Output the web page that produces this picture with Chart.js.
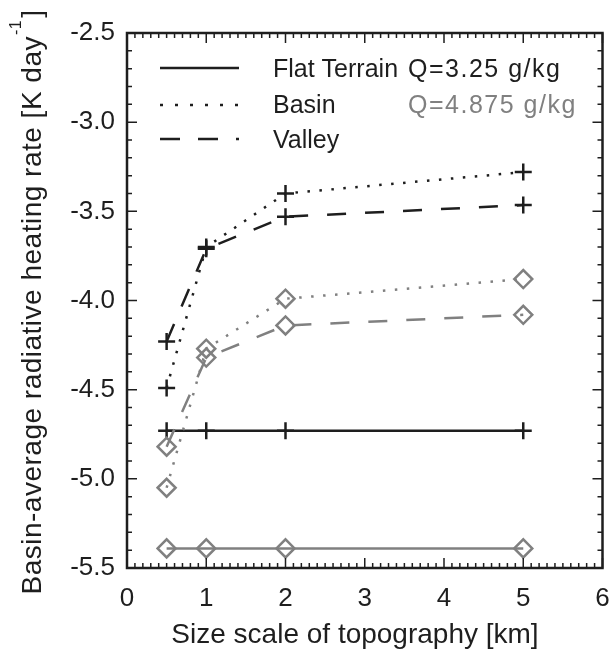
<!DOCTYPE html>
<html>
<head>
<meta charset="utf-8">
<script src="https://cdn.jsdelivr.net/npm/chart.js@4/dist/chart.umd.min.js"></script>
<style>
html,body{margin:0;padding:0;background:#fff;}
#wrap{width:614px;height:665px;position:relative;}
</style>
</head>
<body>
<div id="wrap"><canvas id="c" width="614" height="665"></canvas></div>
<script>
// ---- data ----
const sizeScaleKm = [0.5, 1, 2, 5];
const flatLowQ   = [-4.73, -4.73, -4.73, -4.73];
const basinLowQ  = [-4.49, -3.70, -3.40, -3.28];
const valleyLowQ = [-4.23, -3.71, -3.53, -3.465];
const flatHighQ   = [-5.39, -5.39, -5.39, -5.39];
const basinHighQ  = [-5.05, -4.27, -3.99, -3.88];
const valleyHighQ = [-4.82, -4.32, -4.14, -4.08];
const legendLabels = ['Flat Terrain', 'Basin', 'Valley'];
const qLabels = ['Q=3.25 g/kg', 'Q=4.875 g/kg'];
const xTitle = 'Size scale of topography [km]';
const yTitleMain = 'Basin-average radiative heating rate [K day';
const yTitleSup = '-1';
const yTitleEnd = ']';

const FONT = '"Liberation Sans", Arial, Helvetica, sans-serif';
const BLACK = '#1e1e1e';
const GRAY = '#808080';
const DOT = [2.5, 9.5];
const DASH = [19, 19];

function pts(arr){ return sizeScaleKm.map((x,i)=>({x:x, y:arr[i]})); }
function ds(label, arr, color, dash, style, r){
  return {label, data: pts(arr), borderColor: color, borderWidth: 2.5, borderDash: dash,
    pointStyle: style, pointRadius: r, pointHoverRadius: r, pointBorderColor: color,
    pointBackgroundColor: 'rgba(0,0,0,0)', pointBorderWidth: 2.5, fill: false, tension: 0};
}

const framePlugin = {
  id: 'frame',
  afterDraw(chart){
    const ctx = chart.ctx, a = chart.chartArea;
    const xs = chart.scales.x, ys = chart.scales.y;
    ctx.save();
    ctx.strokeStyle = BLACK; ctx.lineWidth = 2.5; ctx.setLineDash([]);
    ctx.strokeRect(a.left, a.top, a.right - a.left, a.bottom - a.top);
    ctx.lineWidth = 1.5;
    // x ticks (bottom & top)
    for (let k = 0; k <= Math.round((xs.max - xs.min) / 0.1); k++) {
      const v = xs.min + k * 0.1;
      const len = (k % 10 === 0) ? 10 : 5;
      const px = xs.getPixelForValue(v);
      ctx.beginPath();
      ctx.moveTo(px, a.bottom); ctx.lineTo(px, a.bottom - len);
      ctx.moveTo(px, a.top); ctx.lineTo(px, a.top + len);
      ctx.stroke();
    }
    // y ticks (left & right)
    for (let k = 0; k <= Math.round((ys.max - ys.min) / 0.1); k++) {
      const v = ys.min + k * 0.1;
      const len = (k % 5 === 0) ? 10 : 5;
      const py = ys.getPixelForValue(v);
      ctx.beginPath();
      ctx.moveTo(a.left, py); ctx.lineTo(a.left + len, py);
      ctx.moveTo(a.right, py); ctx.lineTo(a.right - len, py);
      ctx.stroke();
    }
    // legend
    const rows = [68, 105, 139];
    const base = [77, 113, 148];
    const styles = [[], [3, 12], [20, 18]];
    ctx.lineWidth = 2.5; ctx.strokeStyle = BLACK;
    rows.forEach((y, i) => {
      ctx.setLineDash(styles[i]);
      ctx.beginPath(); ctx.moveTo(160, y); ctx.lineTo(239, y); ctx.stroke();
    });
    ctx.setLineDash([]);
    ctx.font = '25px ' + FONT;
    ctx.textBaseline = 'alphabetic'; ctx.textAlign = 'left';
    ctx.fillStyle = BLACK;
    base.forEach((y, i) => ctx.fillText(legendLabels[i], 273, y));
    ctx.letterSpacing = '1.5px';
    ctx.fillText(qLabels[0], 408, base[0]);
    ctx.fillStyle = GRAY;
    ctx.fillText(qLabels[1], 408, base[1]);
    ctx.letterSpacing = '0px';
    // y title
    ctx.fillStyle = BLACK;
    ctx.save();
    ctx.translate(41, (12 + 595) / 2);
    ctx.rotate(-Math.PI / 2);
    ctx.letterSpacing = '0.5px';
    ctx.font = '28px ' + FONT;
    const w1 = ctx.measureText(yTitleMain).width;
    ctx.font = '16px ' + FONT;
    const w2 = ctx.measureText(yTitleSup).width;
    ctx.font = '28px ' + FONT;
    const w3 = ctx.measureText(yTitleEnd).width;
    let sx = -(w1 + w2 + w3) / 2;
    ctx.textAlign = 'left';
    ctx.fillText(yTitleMain, sx, 0);
    ctx.font = '16px ' + FONT;
    ctx.fillText(yTitleSup, sx + w1 + 1, -20);
    ctx.font = '28px ' + FONT;
    ctx.fillText(yTitleEnd, sx + w1 + w2 + 3, 0);
    ctx.restore();
    // x title
    ctx.font = '28px ' + FONT;
    ctx.textAlign = 'center';
    ctx.fillText(xTitle, 355, 643);
    ctx.restore();
  }
};

new Chart(document.getElementById('c'), {
  type: 'line',
  data: {
    datasets: [
      ds('Flat Terrain Q=4.875', flatHighQ, GRAY, [], 'rectRot', 9),
      ds('Basin Q=4.875', basinHighQ, GRAY, DOT, 'rectRot', 9),
      ds('Valley Q=4.875', valleyHighQ, GRAY, DASH, 'rectRot', 9),
      ds('Flat Terrain Q=3.25', flatLowQ, BLACK, [], 'cross', 8.5),
      ds('Basin Q=3.25', basinLowQ, BLACK, DOT, 'cross', 8.5),
      ds('Valley Q=3.25', valleyLowQ, BLACK, DASH, 'cross', 8.5)
    ]
  },
  options: {
    responsive: false,
    animation: false,
    devicePixelRatio: 1,
    layout: { padding: { top: 33, right: 10, left: 0, bottom: 0 } },
    plugins: { legend: { display: false }, tooltip: { enabled: false } },
    scales: {
      x: {
        type: 'linear', min: 0, max: 6,
        afterFit: s => { s.height = 97; s.paddingLeft = 0; s.paddingRight = 0; },
        grid: { display: false, drawTicks: false },
        border: { display: false },
        ticks: { stepSize: 1, padding: 15, color: BLACK, font: { size: 26, family: FONT } }
      },
      y: {
        type: 'linear', min: -5.5, max: -2.5,
        afterFit: s => { s.width = 127; s.paddingTop = 0; s.paddingBottom = 0; },
        grid: { display: false, drawTicks: false },
        border: { display: false },
        ticks: { stepSize: 0.5, padding: 12, color: BLACK, font: { size: 26, family: FONT },
          callback: v => v.toFixed(1) }
      }
    }
  },
  plugins: [framePlugin]
});
</script>
</body>
</html>
